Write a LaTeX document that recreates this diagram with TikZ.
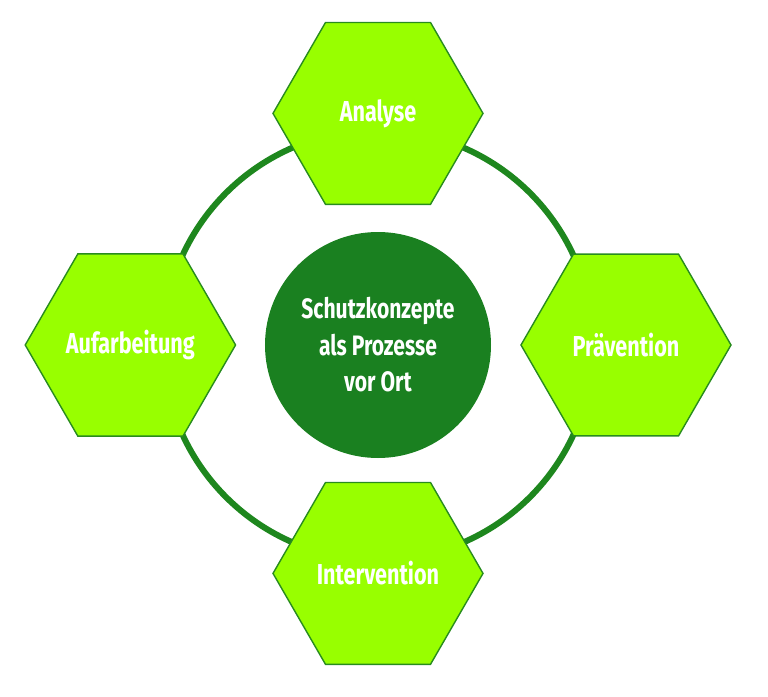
\documentclass[tikz,border=0pt]{standalone}
\usepackage{fontspec}
\setmainfont{Fira Sans}[FakeStretch=0.75]
\usetikzlibrary{shapes.geometric}
\definecolor{hexfill}{RGB}{152,255,0}
\definecolor{hexline}{RGB}{40,140,30}
\definecolor{ringgreen}{RGB}{30,135,30}
\definecolor{coregreen}{RGB}{26,128,32}
\tikzset{
  phase/.style={regular polygon,regular polygon sides=6,minimum size=5.25cm,inner sep=0pt,
    fill=hexfill,draw=hexline,line width=1pt,text=white,font=\fontsize{20.5}{24}\selectfont\bfseries},
  core/.style={circle,minimum size=5.65cm,inner sep=0pt,fill=coregreen,text=white,align=center,
    font=\fontsize{20}{26}\selectfont\bfseries}
}
\begin{document}
\begin{tikzpicture}
			\useasboundingbox (-9.45,-8.775) rectangle (9.75,8.625);
			\coordinate (mid) at (0,0);
			\draw[ringgreen,line width=4.3pt] (mid) circle (5.375);
			\node[phase] (analyse) at (0,5.79) {Analyse};
			\node[phase] (praevention) at (6.2,0) {Prävention};
			\node[phase] (intervention) at (0,-5.71) {Intervention};
			\node[phase] (aufarbeitung) at (-6.19,0) {Aufarbeitung};
			\node[core] (schutz) at (mid) {Schutzkonzepte\\als Prozesse\\vor Ort};
		\end{tikzpicture}
\end{document}
